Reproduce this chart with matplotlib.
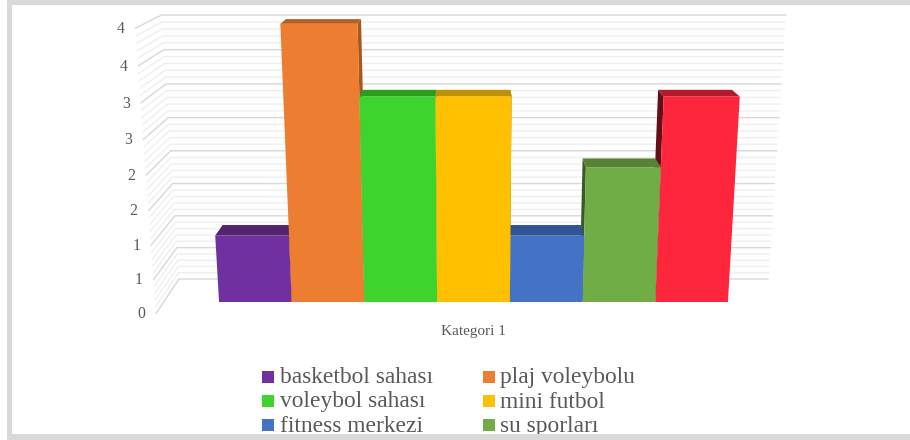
import numpy as np
import matplotlib
matplotlib.use("Agg")
import matplotlib.pyplot as plt
from matplotlib.patches import Polygon, Rectangle

plt.rcParams["font.family"] = ["Liberation Serif", "DejaVu Serif"]

# ---- Data ----
category = "Kategori 1"
bar_values = [1, 4, 3, 3, 1, 2, 3]
legend_names = ["basketbol sahası", "plaj voleybolu", "voleybol sahası",
                "mini futbol", "fitness merkezi", "su sporları"]
tick_values = [0, 0.5, 1, 1.5, 2, 2.5, 3, 3.5, 4]
tick_labels = ["0", "1", "1", "2", "2", "3", "3", "4", "4"]

front_colors = ["#7030a0", "#ed7d31", "#3dd52d", "#ffc000", "#4472c4", "#70ad47", "#fe263c"]
top_colors = ["#55246f", "#b35f25", "#2c9c1c", "#c09100", "#305596", "#588336", "#b01a2c"]
side_colors = ["#46195e", "#a85720", "#22790f", "#8f6c00", "#243f70", "#3b5a24", "#660e18"]

TEXT = "#595959"
BAND = "#d9d9d9"

# ---- Projection: value + depth to pixels, fitted to the picture ----
CX = 473.5
BAR_STEP = 72.7
WALL_X = -310.9       # back wall half width, in bar plane units
BAR_DEPTH = 0.52      # depth of a bar, back wall is at 1
FRONT_DEPTH = -0.45   # front edge of the side wall


def project(x, v, d):
    w = 1 - 0.0148 * v + 0.0557 * d
    return CX + x / w, (302 - 69.9 * v - 7.46 * d) / w


fig = plt.figure(figsize=(9.1, 4.4), dpi=100)
ax = fig.add_axes([0, 0, 1, 1])
ax.set_xlim(0, 910)
ax.set_ylim(440, 0)
ax.axis("off")

# ---- Walls ----
for k in range(41):
    v = k / 10
    major = k % 5 == 0
    color = "#d9d9d9" if major else "#efefef"
    lw = 1.05 if major else 1.0
    pts = [project(WALL_X + 1.5, v, FRONT_DEPTH), project(WALL_X, v, 1), project(-WALL_X, v, 1)]
    ax.plot([p[0] for p in pts], [p[1] for p in pts], color=color, lw=lw,
            zorder=2 if major else 1, solid_joinstyle="miter")

# ---- Tick labels ----
for v, lab in zip(tick_values, tick_labels):
    px, py = project(WALL_X, v, FRONT_DEPTH)
    ax.text(px - 9.5, py + 5, lab, ha="right", va="baseline", fontsize=11.3, color=TEXT)


# ---- Bars, outer ones first so the inner ones cover their sides ----
def draw_bar(i):
    x0 = (i - 3.5) * BAR_STEP
    x1 = x0 + BAR_STEP
    v = bar_values[i]
    near_x = x1 if x0 < 0 else x0
    side = [project(near_x, 0, 0), project(near_x, v, 0),
            project(near_x, v, BAR_DEPTH), project(near_x, 0, BAR_DEPTH)]
    top = [project(x0, v, 0), project(x1, v, 0),
           project(x1, v, BAR_DEPTH), project(x0, v, BAR_DEPTH)]
    front = [project(x0, 0, 0), project(x1, 0, 0), project(x1, v, 0), project(x0, v, 0)]
    ax.add_patch(Polygon(side, closed=True, fc=side_colors[i], ec="none", zorder=3))
    ax.add_patch(Polygon(top, closed=True, fc=top_colors[i], ec="none", zorder=3))
    ax.add_patch(Polygon(front, closed=True, fc=front_colors[i], ec="none", zorder=3))


order = sorted(range(len(bar_values)), key=lambda i: -abs(i - 3))
for i in order:
    draw_bar(i)

# ---- Category label ----
ax.text(CX, 335, category, ha="center", va="baseline", fontsize=11, color=TEXT)

# ---- Legend, last row runs into the frame ----
col_x = [262, 483]
square_y = [371, 395, 419]
base_y = [383, 407.5, 432]
for n, name in enumerate(legend_names):
    lx = col_x[n % 2]
    ax.add_patch(Rectangle((lx, square_y[n // 2]), 12, 12, fc=front_colors[n], ec="none", zorder=3))
    ax.text(lx + 17.5, base_y[n // 2], name, ha="left", va="baseline", fontsize=16.9,
            color=TEXT, zorder=3)

# ---- Frame bands ----
ax.add_patch(Rectangle((7, 0), 903, 5, fc=BAND, ec="none", zorder=5))
ax.add_patch(Rectangle((7, 0), 5, 440, fc=BAND, ec="none", zorder=5))
ax.add_patch(Rectangle((7, 434), 903, 6, fc=BAND, ec="none", zorder=5))

fig.savefig("out.png", dpi=100)
